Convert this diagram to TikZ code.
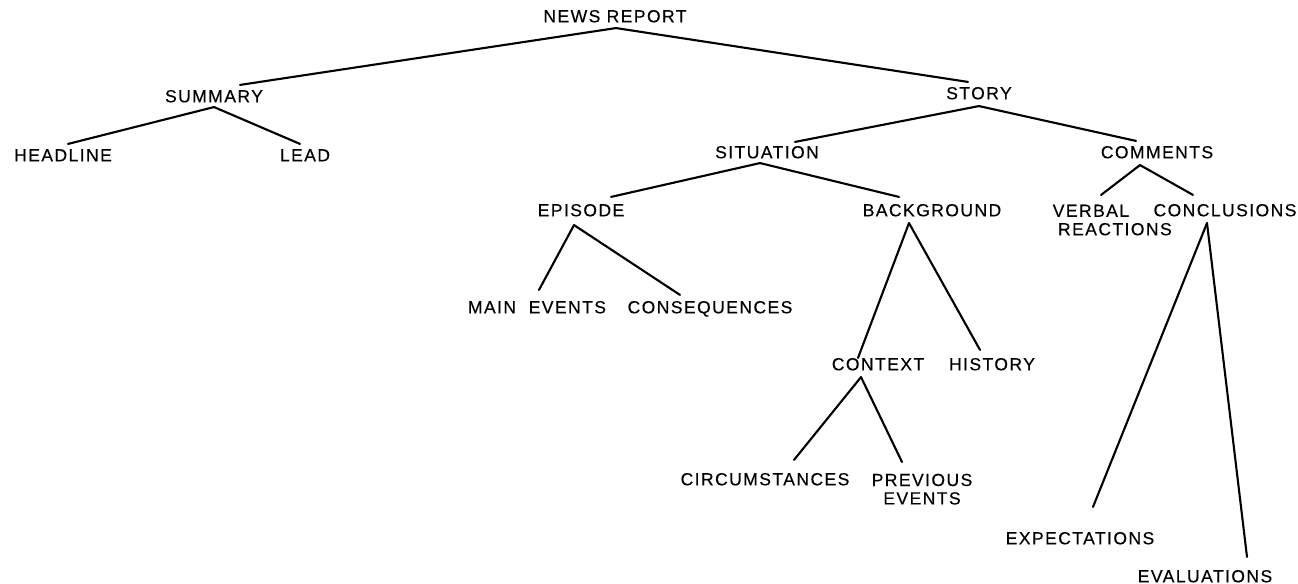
\documentclass[tikz,border=0pt]{standalone}
\usepackage{fontspec}
\setmainfont{Liberation Sans}[LetterSpace=8, FakeBold=0.3]
\usepackage{tikz}
\usetikzlibrary{positioning, calc}
\tikzstyle{term} = [font=\fontsize{10}{10.5}\selectfont, inner sep=2.5pt, text height=7.2pt, text depth=0pt]
\tikzstyle{twoline} = [font=\fontsize{10}{10.5}\selectfont, inner sep=2.5pt]
\tikzstyle{branch} = [line width=1.2pt, line cap=round]

\begin{document}
\begin{tikzpicture}[x=0.02cm, y=-0.02cm]
\useasboundingbox (0,0) rectangle (1298,584);
\node (NewsReport) [term] at (615,16) {NEWS\ REPORT};
\node (Summary) [term] at (214,96) {SUMMARY};
\node (Headline) [term] at (63,155) {HEADLINE};
\node (Lead) [term] at (305,155) {LEAD};
\node (Story) [term] at (979,93) {STORY};
\node (Situation) [term] at (767,152) {SITUATION};
\node (Comments) [term] at (1157,152) {COMMENTS};
\node (Episode) [term] at (581,210) {EPISODE};
\node (Background) [term] at (932,210) {BACKGROUND};
\node (Verbal) [twoline, anchor=north west, align=left] at (1048,200) {VERBAL\\\hspace{3pt}REACTIONS};
\node (Conclusions) [term] at (1225,210) {CONCLUSIONS};
\node (MainEvents) [term] at (537,307) {MAIN\ \ EVENTS};
\node (Consequences) [term] at (710,307) {CONSEQUENCES};
\node (Context) [term] at (878,364) {CONTEXT};
\node (History) [term] at (992,364) {HISTORY};
\node (Circumstances) [term] at (765,479) {CIRCUMSTANCES};
\node (Previous) [twoline, anchor=north, align=center] at (922,469) {PREVIOUS\\EVENTS};
\node (Expectations) [term] at (1080,538) {EXPECTATIONS};
\node (Evaluations) [term] at (1205,576) {EVALUATIONS};

\draw [branch] ($(NewsReport.south)+(1,1)$) -- ($(Summary.north)+(26,0)$);
\draw [branch] ($(NewsReport.south)+(1,1)$) -- ($(Story.north)+(-11,0)$);
\draw [branch] (Summary.south) -- ($(Headline.north)+(5,0)$);
\draw [branch] (Summary.south) -- ($(Lead.north)+(-5,0)$);
\draw [branch] ($(Story.south)+(0,2)$) -- ($(Situation.north)+(28,1)$);
\draw [branch] ($(Story.south)+(0,2)$) -- ($(Comments.north)+(-21,0)$);
\draw [branch] ($(Situation.south)+(-7,0)$) -- ($(Episode.north)+(30,-2)$);
\draw [branch] ($(Situation.south)+(-7,0)$) -- ($(Background.north)+(-33,-2)$);
\draw [branch] ($(Comments.south)+(-17,2)$) -- ($(Verbal.north west)+(53,-5)$);
\draw [branch] ($(Comments.south)+(-17,2)$) -- ($(Conclusions.north)+(-32,-4)$);
\draw [branch] ($(Episode.south)+(-7,4)$) -- ($(MainEvents.north)+(2,-6)$);
\draw [branch] ($(Episode.south)+(-7,4)$) -- ($(Consequences.north)+(-30,-1)$);
\draw [branch] ($(Background.south)+(-23,2)$) -- ($(Context.north)+(-20,5)$);
\draw [branch] ($(Background.south)+(-23,2)$) -- ($(History.north)+(-12,-3)$);
\draw [branch] ($(Context.south)+(-17,2)$) -- ($(Circumstances.north)+(29,-8)$);
\draw [branch] ($(Context.south)+(-17,2)$) -- ($(Previous.north)+(-20,-7)$);
\draw [branch] ($(Conclusions.south)+(-18,2)$) -- ($(Expectations.north)+(13,-20)$);
\draw [branch] ($(Conclusions.south)+(-18,2)$) -- ($(Evaluations.north)+(42,-8)$);
\end{tikzpicture}
\end{document}
